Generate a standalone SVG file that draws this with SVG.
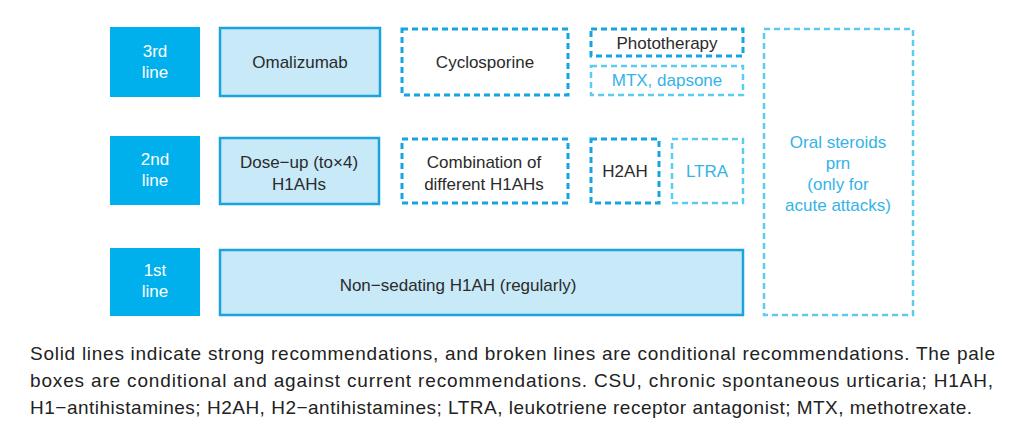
<svg xmlns="http://www.w3.org/2000/svg" width="1024" height="438" viewBox="0 0 1024 438">
<style>
text{font-family:"Liberation Sans",Arial,sans-serif;}
.lbl{fill:#00b0ec;}
.lt{fill:#ffffff;font-size:17px;text-anchor:middle;}
.solid{fill:#c7e9f8;stroke:#1ba3dd;stroke-width:2.5;}
.dash{fill:#ffffff;stroke:#14a5e2;stroke-width:3;stroke-dasharray:6 4;}
.pale{fill:#ffffff;stroke:#5ccbf0;stroke-width:2.5;stroke-dasharray:6 4;}
.t{fill:#2b2b2b;font-size:17px;text-anchor:middle;}
.tp{fill:#35b3e8;font-size:17px;text-anchor:middle;}
.cap{fill:#222222;font-size:19px;}
</style>
<g id="label-3rd"><rect class="lbl" x="110" y="27" width="90" height="70"/><text class="lt" x="155" y="57">3rd</text><text class="lt" x="155" y="78">line</text></g>
<g id="label-2nd"><rect class="lbl" x="110" y="136" width="90" height="69"/><text class="lt" x="155" y="165">2nd</text><text class="lt" x="155" y="186">line</text></g>
<g id="label-1st"><rect class="lbl" x="110" y="248" width="90" height="68"/><text class="lt" x="155" y="276">1st</text><text class="lt" x="155" y="297">line</text></g>
<g id="omalizumab"><rect class="solid" x="220" y="28" width="160" height="68"/><text class="t" x="300" y="68">Omalizumab</text></g>
<g id="cyclosporine"><rect class="dash" x="402" y="29" width="166" height="66"/><text class="t" x="485" y="68">Cyclosporine</text></g>
<g id="phototherapy"><rect class="dash" x="591" y="29" width="152" height="27"/><text class="t" x="667" y="49">Phototherapy</text></g>
<g id="mtx"><rect class="pale" x="591" y="66" width="152" height="29"/><text class="tp" x="667" y="86">MTX, dapsone</text></g>
<g id="oral-steroids"><rect class="pale" x="764" y="29" width="149" height="286"/><text class="tp" x="838" y="148">Oral steroids</text><text class="tp" x="838" y="169">prn</text><text class="tp" x="838" y="190">(only for</text><text class="tp" x="838" y="211">acute attacks)</text></g>
<g id="dose-up"><rect class="solid" x="220" y="138" width="159" height="66"/><text class="t" x="299" y="168">Dose−up (to×4)</text><text class="t" x="299" y="190">H1AHs</text></g>
<g id="combination"><rect class="dash" x="402" y="139" width="166" height="64"/><text class="t" x="484" y="168">Combination of</text><text class="t" x="484" y="190">different H1AHs</text></g>
<g id="h2ah"><rect class="dash" x="591" y="139" width="68" height="64"/><text class="t" x="625" y="177">H2AH</text></g>
<g id="ltra"><rect class="pale" x="672" y="139" width="71" height="64"/><text class="tp" x="707" y="177">LTRA</text></g>
<g id="non-sedating"><rect class="solid" x="220" y="250" width="523" height="65"/><text class="t" x="458" y="291">Non−sedating H1AH (regularly)</text></g>
<g id="connectors"/>
<g id="caption">
<text class="cap" x="30" y="360" textLength="965" lengthAdjust="spacing">Solid lines indicate strong recommendations, and broken lines are conditional recommendations. The pale</text>
<text class="cap" x="30" y="387" textLength="963" lengthAdjust="spacing">boxes are conditional and against current recommendations. CSU, chronic spontaneous urticaria; H1AH,</text>
<text class="cap" x="30" y="414" textLength="942" lengthAdjust="spacing">H1−antihistamines; H2AH, H2−antihistamines; LTRA, leukotriene receptor antagonist; MTX, methotrexate.</text>
</g>
</svg>
